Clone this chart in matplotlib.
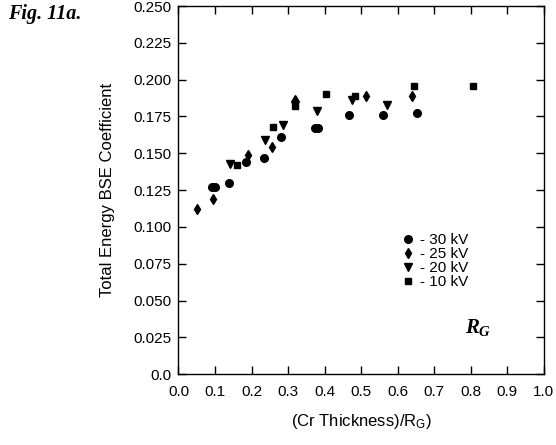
import matplotlib.pyplot as plt

# data: (Cr thickness)/R_G vs total energy BSE coefficient
x_30 = [0.092, 0.099, 0.139, 0.185, 0.233, 0.280, 0.373, 0.382, 0.467, 0.560, 0.653]
y_30 = [0.127, 0.127, 0.130, 0.144, 0.147, 0.161, 0.167, 0.167, 0.176, 0.176, 0.1775]

x_25 = [0.050, 0.095, 0.190, 0.255, 0.320, 0.514, 0.640]
y_25 = [0.112, 0.119, 0.149, 0.154, 0.186, 0.189, 0.189]

x_20 = [0.141, 0.238, 0.286, 0.320, 0.380, 0.475, 0.571]
y_20 = [0.143, 0.159, 0.169, 0.183, 0.179, 0.186, 0.1825]

x_10 = [0.160, 0.258, 0.320, 0.403, 0.484, 0.645, 0.807]
y_10 = [0.142, 0.168, 0.182, 0.190, 0.189, 0.1955, 0.1955]

xticks = [0.0, 0.1, 0.2, 0.3, 0.4, 0.5, 0.6, 0.7, 0.8, 0.9, 1.0]
yticks = [0.0, 0.025, 0.05, 0.075, 0.1, 0.125, 0.15, 0.175, 0.2, 0.225, 0.25]
ytick_labels = ["0.0", "0.025", "0.050", "0.075", "0.100", "0.125", "0.150",
                "0.175", "0.200", "0.225", "0.250"]

plt.rcParams['font.family'] = ['Liberation Sans', 'DejaVu Sans']
plt.rcParams['mathtext.fontset'] = 'custom'
plt.rcParams['mathtext.it'] = 'Liberation Serif:italic:bold'

fig = plt.figure(figsize=(5.56, 4.45), dpi=100)
ax = fig.add_axes([0.321, 0.159, 0.657, 0.8275])

ms = 5.5
ax.plot(x_30, y_30, 'o', color='black', ms=ms, label='- 30 kV')
ax.plot(x_25, y_25, 'd', color='black', ms=ms - 0.5, label='- 25 kV')
ax.plot(x_20, y_20, 'v', color='black', ms=ms, label='- 20 kV')
ax.plot(x_10, y_10, 's', color='black', ms=ms - 1, label='- 10 kV')

ax.set_xlim(0, 1.0)
ax.set_ylim(0, 0.25)
ax.set_xticks(xticks)
ax.set_xticklabels([f"{t:.1f}" for t in xticks])
ax.set_yticks(yticks)
ax.set_yticklabels(ytick_labels)
ax.tick_params(direction='in', length=6, width=1, top=True, right=True,
               labelsize=11)
ax.tick_params(axis='x', pad=8)
ax.tick_params(axis='y', pad=5)
for s in ax.spines.values():
    s.set_linewidth(1)

ax.set_xlabel("(Cr Thickness)/R$_\\mathregular{G}$)", fontsize=12, labelpad=9)
ax.set_ylabel("Total Energy BSE Coefficient", fontsize=12, labelpad=13)

ax.legend(loc='upper left', bbox_to_anchor=(0.59, 0.40), frameon=False,
          fontsize=11, handletextpad=0.3, labelspacing=0.0,
          handlelength=1.0, borderaxespad=0)

ax.text(0.785, 0.111, "$R_G$", transform=ax.transAxes, fontsize=15)
fig.text(0.014, 0.968, "Fig. 11a.", fontsize=14.5, fontfamily='Liberation Serif',
         fontweight='bold', fontstyle='italic', va='center')

fig.savefig("out.png", dpi=100)
